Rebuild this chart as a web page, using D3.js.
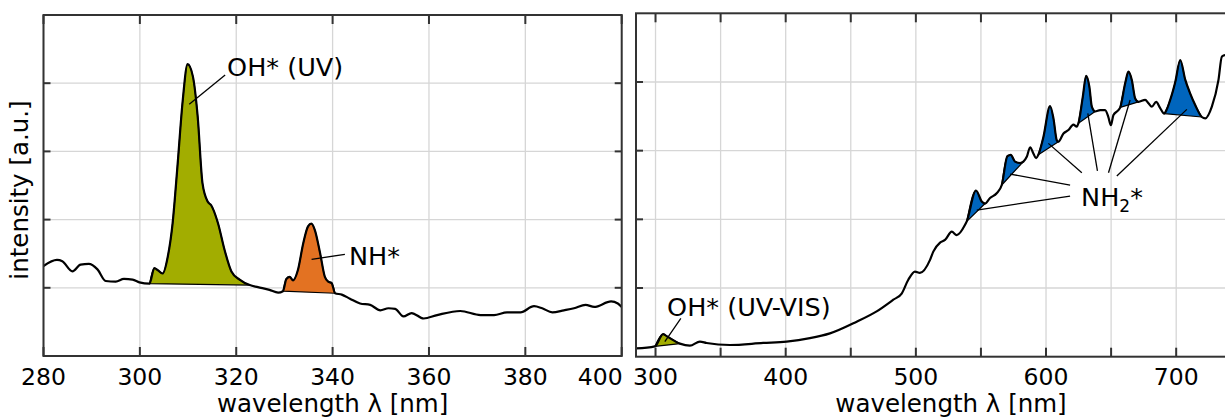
<!DOCTYPE html>
<html>
<head>
<meta charset="utf-8">
<script src="https://cdn.jsdelivr.net/npm/d3@7"></script>
<style>
body { margin: 0; background: #fff; }
text { font-family: "DejaVu Sans", Verdana, sans-serif; fill: #000; }
</style>
</head>
<body>
<svg id="chart" width="1225" height="417"></svg>
<script>
// UV spectrometer (left)
const uvWavelength = [280, 282.8, 283.9, 286.0, 287.7, 289.4, 291.2, 292.9, 295.0, 296.7, 298.5, 299.9,
    302.0, 303.0, 303.7, 304.7, 305.8, 306.8, 307.8, 308.9, 309.9, 311.0, 312.0, 313.0, 314.1, 314.8,
    316.2, 317.6, 319.0, 320.7, 322.8, 324.5, 326.9, 328.7, 329.7, 330.4, 331.1, 331.8, 332.8, 333.9,
    334.9, 335.6, 336.3, 337.4, 338.4, 339.1, 339.8, 340.5, 341.9, 343.6, 345.7, 347.8, 349.9, 351.6,
    353.0, 354.7, 356.4, 358.9, 361.7, 366.5, 370.7, 373.5, 376.2, 379.0, 381.8, 383.5, 385.6, 388.0,
    390.1, 392.5, 394.3, 397.8, 399.2, 400];
const uvIntensity = [1.32, 1.41, 1.39, 1.24, 1.34, 1.35, 1.27, 1.10, 1.09, 1.13, 1.12, 1.08,
    1.06, 1.29, 1.26, 1.21, 1.46, 1.95, 2.78, 3.75, 4.28, 4.10, 3.51, 2.53, 2.26, 2.21,
    1.95, 1.55, 1.24, 1.12, 1.04, 1.01, 0.97, 0.93, 0.95, 1.13, 1.16, 1.11, 1.26, 1.65,
    1.90, 1.94, 1.85, 1.51, 1.16, 1.09, 1.07, 0.92, 0.90, 0.84, 0.77, 0.75, 0.67, 0.70,
    0.69, 0.58, 0.63, 0.55, 0.60, 0.66, 0.60, 0.60, 0.64, 0.64, 0.73, 0.70, 0.64, 0.67,
    0.70, 0.75, 0.72, 0.80, 0.77, 0.72];
const uvBands = [[302.0, 322.8], [329.7, 340.5]];
const uvTicks = [280, 300, 320, 340, 360, 380, 400];

// UV-VIS spectrometer (right)
const visWavelength = [285, 299.5, 305.8, 308.5, 318.7, 326.4, 334.1, 339.2, 357.1, 382.7, 400.7, 418.6,
    434.0, 454.5, 469.9, 482.7, 489.1, 494.2, 499.3, 503.1, 510.9, 513.4, 518.6, 522.4, 527.6, 531.4,
    537.8, 539.1, 546.2, 550.6, 553.2, 557.0, 562.1, 566.0, 570.3, 572.9, 576.2, 580.1, 582.6, 585.2,
    587.8, 590.3, 592.4, 594.1, 598.0, 603.1, 605.7, 608.3, 609.5, 613.4, 617.2, 621.0, 623.6, 624.9,
    628.3, 630.8, 633.3, 635.2, 637.7, 641.6, 645.4, 647.9, 649.8, 651.8, 655.6, 657.0, 660.8, 663.3,
    665.9, 668.5, 671.0, 676.2, 678.7, 681.3, 684.6, 687.7, 690.8, 695.4, 699.3, 703.1, 707.0, 710.8,
    714.7, 719.7, 722.4, 727.4, 732.5, 735.1, 737.7, 739.5];
const visIntensity = [0.12, 0.15, 0.33, 0.30, 0.19, 0.16, 0.22, 0.20, 0.17, 0.20, 0.22, 0.27,
    0.34, 0.51, 0.66, 0.83, 0.92, 1.12, 1.24, 1.22, 1.41, 1.53, 1.66, 1.70, 1.82, 1.77,
    1.92, 1.97, 2.42, 2.26, 2.23, 2.31, 2.38, 2.50, 2.92, 2.94, 2.84, 2.82, 2.84, 2.91,
    3.05, 2.96, 2.89, 2.94, 3.20, 3.65, 3.47, 3.15, 3.13, 3.25, 3.30, 3.38, 3.35, 3.40,
    3.79, 4.09, 3.93, 3.64, 3.57, 3.59, 3.59, 3.49, 3.37, 3.52, 3.59, 3.63, 3.98, 4.15,
    4.03, 3.76, 3.71, 3.74, 3.69, 3.64, 3.71, 3.62, 3.54, 3.74, 4.00, 4.32, 4.03, 3.83,
    3.66, 3.49, 3.47, 3.64, 4.03, 4.37, 4.39, 4.38];
const visBands = [[299.5, 318.7], [539.1, 553.2], [566.0, 582.6], [594.1, 609.5],
    [624.9, 637.7], [657.0, 671.0], [690.8, 719.7]];
const visTicks = [300, 400, 500, 600, 700];

const intensityTicks = [1, 2, 3, 4];

const tumGreen = "#a2ad00", tumOrange = "#e37222", tumBlue = "#0065bd";

const svg = d3.select("#chart");

const panels = [
    {
        wl: uvWavelength, val: uvIntensity, bands: uvBands,
        colors: [tumGreen, tumOrange],
        xDomain: [280, 400], xRange: [43.5, 621.7], yRange: [356, 15],
        grid: uvTicks, labels: uvTicks,
        notes: [
            {text: ["OH* (UV)"], at: [318.1, 4.11], lines: [[[310.25, 3.69], [317.7, 4.12]]]},
            {text: ["NH*"], at: [343.4, 1.334], lines: [[[335.64, 1.418], [342.55, 1.491]]]}
        ]
    },
    {
        wl: visWavelength, val: visIntensity, bands: visBands,
        colors: [tumGreen, tumBlue, tumBlue, tumBlue, tumBlue, tumBlue, tumBlue],
        xDomain: [285, 769], xRange: [636, 1266], yRange: [356.7, 13.3],
        grid: d3.range(300, 751, 50), labels: visTicks,
        notes: [
            {text: ["OH* (UV-VIS)"], at: [308.9, 0.592], lines: [[[307.15, 0.218], [319.45, 0.559]]]},
            {text: ["NH", "2", "*"], at: [626.96, 2.198], lines: [
                [[618.5, 2.339], [546.8, 2.135]],
                [[618.5, 2.499], [572.4, 2.659]],
                [[627.5, 2.678], [601.8, 3.106]],
                [[639.5, 2.707], [632.1, 3.543]],
                [[648.0, 2.678], [664.6, 3.737]],
                [[654.4, 2.630], [708.2, 3.601]]
            ]}
        ]
    }
];

panels.forEach((p, pi) => {
    const x = d3.scaleLinear().domain(p.xDomain).range(p.xRange);
    const y = d3.scaleLinear().domain([0, 5]).range(p.yRange);
    const [x0, x1] = p.xRange, [yb, yt] = p.yRange;
    const g = svg.append("g");

    g.append("clipPath").attr("id", "clip" + pi)
        .append("rect")
        .attr("x", x0).attr("y", yt)
        .attr("width", x1 - x0).attr("height", yb - yt);

    // grid
    g.append("g").selectAll("line")
        .data(p.grid)
        .join("line")
        .attr("x1", d => x(d)).attr("x2", d => x(d))
        .attr("y1", yt).attr("y2", yb)
        .attr("stroke", "#d6d6d6").attr("stroke-width", 1.3);
    g.append("g").selectAll("line")
        .data(intensityTicks)
        .join("line")
        .attr("x1", x0).attr("x2", x1)
        .attr("y1", d => y(d)).attr("y2", d => y(d))
        .attr("stroke", "#d6d6d6").attr("stroke-width", 1.3);

    const pts = p.wl.map((w, i) => [w, p.val[i]]);
    const line = d3.line()
        .curve(d3.curveMonotoneX)
        .x(d => x(d[0]))
        .y(d => y(d[1]));

    const plot = g.append("g").attr("clip-path", `url(#clip${pi})`);

    // emission bands, closed along the chord under each peak
    plot.selectAll(".band")
        .data(p.bands)
        .join("path")
        .attr("class", "band")
        .attr("d", b => line(pts.filter(d => d[0] >= b[0] && d[0] <= b[1])) + "Z")
        .attr("fill", (b, i) => p.colors[i])
        .attr("stroke", "#000")
        .attr("stroke-width", 1.2)
        .attr("stroke-linejoin", "round");

    plot.append("path")
        .attr("d", line(pts))
        .attr("fill", "none")
        .attr("stroke", "#000")
        .attr("stroke-width", 2.2)
        .attr("stroke-linejoin", "round");

    // frame + ticks
    g.append("rect")
        .attr("x", x0).attr("y", yt)
        .attr("width", x1 - x0).attr("height", yb - yt)
        .attr("fill", "none").attr("stroke", "#333").attr("stroke-width", 2);

    const tickG = g.append("g").attr("stroke", "#333").attr("stroke-width", 2);
    tickG.selectAll(".tb").data(p.grid).join("line")
        .attr("x1", d => x(d)).attr("x2", d => x(d))
        .attr("y1", yb).attr("y2", yb - 9);
    tickG.selectAll(".tt").data(p.grid).join("line")
        .attr("x1", d => x(d)).attr("x2", d => x(d))
        .attr("y1", yt).attr("y2", yt + 9);
    tickG.selectAll(".tl").data(intensityTicks).join("line")
        .attr("x1", x0).attr("x2", x0 + 7)
        .attr("y1", d => y(d)).attr("y2", d => y(d));
    tickG.selectAll(".tr").data(intensityTicks).join("line")
        .attr("x1", x1).attr("x2", x1 - 7)
        .attr("y1", d => y(d)).attr("y2", d => y(d));

    const lastLabel = p.labels[p.labels.length - 1];
    g.append("g").selectAll("text")
        .data(p.labels)
        .join("text")
        .attr("x", d => d === lastLabel && x(d) >= x1 - 1 ? x(d) + 1 : x(d))
        .attr("y", 385)
        .attr("text-anchor", d => d === lastLabel && x(d) >= x1 - 1 ? "end" : "middle")
        .attr("font-size", 23.5)
        .text(d => d);

    g.append("text")
        .attr("x", Math.min((x0 + x1) / 2, 951))
        .attr("y", 412)
        .attr("text-anchor", "middle")
        .attr("font-size", 24.5)
        .text("wavelength λ [nm]");

    // annotations
    p.notes.forEach(n => {
        n.lines.forEach(l => {
            g.append("line")
                .attr("x1", x(l[0][0])).attr("y1", y(l[0][1]))
                .attr("x2", x(l[1][0])).attr("y2", y(l[1][1]))
                .attr("stroke", "#000").attr("stroke-width", 1.3);
        });
        const t = g.append("text")
            .attr("x", x(n.at[0])).attr("y", y(n.at[1]))
            .attr("font-size", 25.5);
        if (n.text.length === 1) {
            t.text(n.text[0]);
        } else {
            t.append("tspan").text(n.text[0]);
            t.append("tspan").attr("font-size", 17).attr("dy", 6).text(n.text[1]);
            t.append("tspan").attr("dy", -6).text(n.text[2]);
        }
    });
});

svg.append("text")
    .attr("transform", "translate(28,190) rotate(-90)")
    .attr("text-anchor", "middle")
    .attr("font-size", 24.5)
    .text("intensity [a.u.]");
</script>
</body>
</html>
